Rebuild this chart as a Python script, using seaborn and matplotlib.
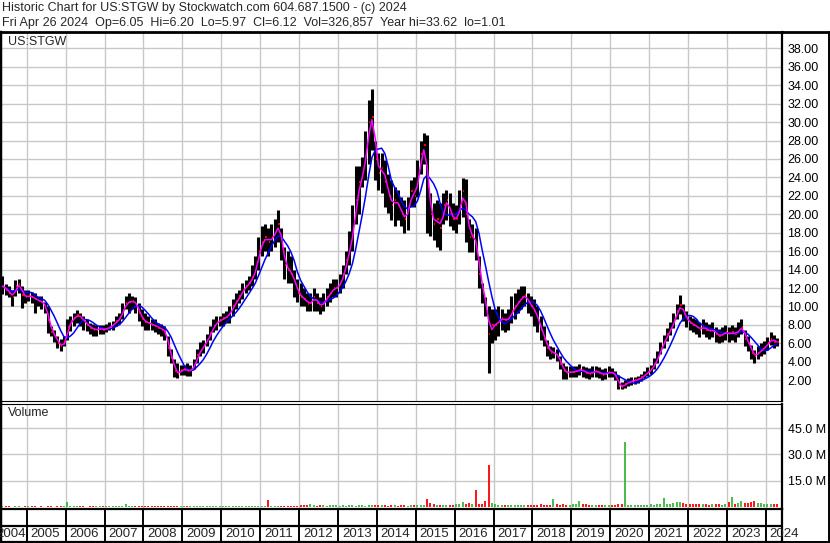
import numpy as np
import pandas as pd
import matplotlib
matplotlib.use("Agg")
import matplotlib.pyplot as plt
import seaborn as sns

sns.set_style("white")
plt.rcParams['font.family'] = ['Liberation Sans', 'DejaVu Sans']

# monthly bars, May 2004 .. Apr 2024
close = [
    12.2, 11.8, 11.5, 11.0, 12.2, 12.4, 11.3, 11.0,
    11.2, 11.0, 10.8, 10.6, 10.5, 10.0, 8.5, 7.2, 6.8, 6.0, 5.7, 6.1,
    7.8, 8.4, 8.8, 9.1, 8.8, 8.4, 8.0, 7.7, 7.5, 7.5, 7.6, 7.5,
    7.6, 7.8, 8.0, 8.4, 8.7, 9.6, 10.4, 10.5, 10.6, 10.3, 9.3, 8.6,
    8.3, 8.2, 8.0, 7.9, 7.7, 7.5, 7.3, 5.5, 4.4, 3.0, 2.7, 3.1,
    3.2, 3.0, 3.1, 3.6, 4.7, 5.3, 5.8, 6.4, 7.1, 7.9, 8.3, 8.5,
    8.7, 8.9, 9.3, 10.0, 10.6, 11.1, 11.8, 12.2, 12.6, 13.2, 14.2, 16.0,
    17.0, 17.5, 17.0, 17.5, 18.0, 19.0, 16.5, 14.5, 14.0, 13.5, 12.5, 11.5,
    11.0, 10.8, 10.3, 10.4, 11.0, 10.4, 10.0, 10.5, 11.0, 11.5, 12.0, 12.0,
    12.5, 13.5, 15.0, 16.5, 18.5, 21.5, 23.5, 24.5, 27.0, 30.0, 30.5, 26.0,
    24.5, 25.0, 23.5, 22.0, 21.0, 21.5, 21.0, 20.0, 19.5, 20.5, 22.5, 22.0,
    24.0, 26.5, 27.5, 23.0, 20.0, 19.0, 19.5, 18.5, 21.0, 21.5, 20.0, 19.5,
    19.5, 21.0, 22.5, 20.0, 17.5, 17.8, 16.5, 13.5, 11.5, 10.0, 7.0, 8.0,
    8.0, 8.5, 8.7, 8.5, 8.7, 9.5, 10.0, 10.5, 11.0, 11.2, 10.5, 10.0,
    9.5, 8.5, 7.5, 6.5, 5.5, 5.0, 5.0, 4.7, 3.8, 3.0, 2.8, 2.9,
    2.9, 3.0, 3.2, 3.0, 2.8, 2.7, 2.9, 3.0, 2.8, 2.6, 2.7, 2.9,
    2.8, 2.5, 1.4, 1.3, 1.6, 1.8, 1.9, 2.0, 2.1, 2.3, 2.6, 2.9,
    3.2, 3.8, 4.5, 5.5, 6.2, 7.0, 7.6, 8.5, 9.5, 10.2, 9.2, 8.6,
    8.2, 8.0, 7.8, 7.5, 7.8, 7.5, 7.3, 7.5, 7.0, 6.8, 7.0, 7.2,
    7.0, 7.2, 7.0, 7.5, 7.8, 6.5, 6.0, 5.0, 4.6, 5.0, 5.3, 5.6,
    6.0, 6.5, 6.2, 6.12,
]
high = [
    13.3, 12.4, 12.2, 11.8, 12.9, 13.0, 12.2, 11.8,
    11.8, 11.6, 11.5, 11.1, 11.1, 10.5, 10.0, 7.9, 7.5, 6.8, 6.5, 6.8,
    8.6, 9.0, 9.3, 9.6, 9.3, 9.0, 8.6, 8.2, 8.1, 8.0, 8.0, 8.0,
    8.1, 8.3, 8.4, 9.0, 9.3, 10.4, 11.1, 11.5, 11.1, 11.0, 10.4, 9.7,
    9.3, 9.0, 8.6, 8.6, 8.2, 8.1, 7.9, 6.8, 5.4, 4.3, 3.9, 3.7,
    3.7, 3.9, 3.7, 4.3, 5.4, 6.1, 6.4, 7.0, 7.9, 8.6, 9.0, 9.0,
    9.3, 9.5, 10.0, 10.8, 11.5, 11.8, 12.5, 12.9, 13.3, 14.5, 15.5, 17.5,
    18.7, 19.0, 18.5, 19.0, 19.5, 20.5, 18.5, 16.5, 16.0, 15.5, 14.0, 13.0,
    12.5, 12.0, 11.5, 11.5, 12.0, 11.5, 11.0, 11.5, 12.0, 12.5, 13.0, 13.0,
    13.5, 14.5, 16.0, 18.2, 21.0, 25.2, 25.2, 26.2, 29.0, 32.4, 33.6, 28.0,
    26.6, 26.6, 25.9, 24.4, 23.7, 23.0, 22.6, 21.9, 21.5, 21.9, 23.7, 24.0,
    25.9, 28.0, 28.8, 28.6, 22.3, 21.2, 21.5, 21.2, 22.3, 22.6, 22.3, 21.2,
    21.0, 22.6, 23.9, 23.8, 19.5, 19.0, 18.5, 15.5, 12.5, 11.0, 10.0, 9.7,
    9.7, 10.0, 9.7, 9.3, 9.7, 11.1, 11.5, 11.9, 12.2, 12.2, 11.5, 11.1,
    10.8, 10.0, 9.0, 7.9, 6.4, 5.7, 5.6, 5.4, 4.6, 3.9, 3.5, 3.5,
    3.5, 3.6, 3.8, 3.6, 3.4, 3.3, 3.5, 3.6, 3.4, 3.2, 3.3, 3.5,
    3.3, 3.0, 2.6, 1.8, 2.0, 2.2, 2.3, 2.4, 2.5, 2.7, 3.0, 3.4,
    3.7, 4.4, 5.2, 6.2, 6.9, 7.7, 8.3, 9.3, 10.3, 11.2, 10.3, 9.5,
    9.0, 8.8, 8.6, 8.3, 8.6, 8.3, 8.1, 8.3, 7.8, 7.6, 7.8, 8.0,
    7.8, 8.0, 7.8, 8.3, 8.6, 7.5, 6.8, 5.8, 5.3, 5.7, 6.0, 6.3,
    6.7, 7.2, 6.9, 6.6,
]
low = [
    11.4, 11.2, 11.0, 10.0, 11.1, 11.5, 9.8, 10.4,
    10.6, 10.4, 9.3, 10.0, 9.7, 9.3, 7.1, 6.8, 6.1, 5.5, 5.2, 5.7,
    6.4, 7.3, 7.9, 8.2, 7.9, 7.5, 7.3, 7.0, 6.8, 6.8, 7.0, 7.0,
    7.2, 7.4, 7.5, 7.9, 8.1, 8.6, 9.7, 9.3, 9.7, 9.3, 8.4, 7.9,
    7.4, 7.5, 7.5, 7.2, 7.0, 6.8, 6.4, 4.6, 3.9, 2.3, 2.2, 2.6,
    2.6, 2.5, 2.5, 3.2, 3.9, 4.6, 5.0, 5.7, 6.4, 7.2, 7.5, 7.9,
    7.9, 8.2, 8.2, 9.0, 9.7, 10.4, 10.8, 11.5, 11.8, 12.2, 13.0, 14.0,
    15.5, 16.0, 15.5, 16.0, 16.5, 17.0, 15.0, 13.0, 12.5, 12.5, 11.0, 10.5,
    10.0, 10.0, 9.5, 9.5, 9.5, 9.5, 9.2, 9.5, 10.0, 10.5, 11.0, 11.0,
    11.5, 12.0, 13.5, 14.5, 16.0, 19.0, 20.0, 23.0, 23.7, 25.5, 27.0, 23.7,
    22.6, 22.3, 20.8, 20.1, 19.4, 18.7, 19.4, 18.7, 18.0, 18.3, 20.8, 20.8,
    21.9, 24.4, 25.5, 18.0, 17.6, 17.2, 16.5, 16.1, 19.0, 19.4, 18.7, 18.3,
    18.0, 19.0, 19.7, 17.0, 15.9, 15.9, 15.0, 12.0, 10.4, 9.0, 2.8, 6.0,
    6.4, 6.8, 7.5, 7.2, 7.5, 8.2, 8.6, 9.3, 9.7, 10.0, 9.3, 9.0,
    7.9, 7.2, 6.4, 5.7, 4.6, 4.3, 4.4, 4.1, 3.2, 2.1, 2.1, 2.4,
    2.3, 2.4, 2.6, 2.4, 2.2, 2.1, 2.3, 2.4, 2.2, 2.0, 2.1, 2.3,
    2.3, 2.0, 1.01, 1.0, 1.2, 1.4, 1.5, 1.6, 1.7, 1.9, 2.2, 2.5,
    2.7, 3.2, 3.9, 4.8, 5.5, 6.3, 6.9, 7.7, 8.6, 9.2, 8.4, 7.8,
    7.4, 7.2, 7.0, 6.7, 7.0, 6.7, 6.5, 6.7, 6.2, 6.0, 6.2, 6.4,
    6.2, 6.4, 6.2, 6.7, 7.0, 5.7, 5.2, 4.3, 3.9, 4.3, 4.6, 4.9,
    5.3, 5.8, 5.5, 5.7,
]
# largest daily volume seen in each month, millions
volume = [
    0.4, 0.5, 0.4, 0.3, 0.5, 0.4, 0.3, 0.4,
    0.4, 0.5, 0.4, 0.3, 0.4, 0.3, 0.5, 0.6, 0.3, 0.4, 0.5, 0.4,
    2.8, 0.6, 0.5, 0.4, 0.5, 0.4, 0.3, 0.4, 0.5, 0.4, 0.4, 0.5,
    0.5, 0.4, 0.5, 0.4, 0.6, 0.5, 1.6, 0.6, 0.5, 0.4, 0.5, 0.4,
    0.5, 0.4, 0.5, 0.4, 0.5, 0.4, 0.6, 0.5, 0.7, 0.6, 0.5, 0.4,
    0.4, 0.5, 0.6, 0.5, 0.6, 0.5, 0.4, 0.5, 0.6, 0.4, 0.5, 0.4,
    0.5, 0.4, 0.5, 0.6, 0.5, 0.4, 0.5, 0.6, 0.5, 0.4, 0.5, 0.6,
    0.7, 0.6, 3.8, 0.7, 0.6, 0.5, 0.7, 0.8, 0.6, 0.5, 0.6, 0.5,
    1.2, 1.4, 0.9, 1.5, 1.0, 0.8, 0.9, 1.0, 0.8, 0.9, 1.0, 0.9,
    0.8, 0.9, 0.8, 1.0, 0.9, 0.8, 0.9, 1.0, 0.8, 1.1, 1.0, 0.9,
    0.9, 1.0, 0.9, 0.8, 0.9, 1.0, 0.8, 0.9, 1.0, 0.8, 0.9, 1.0,
    1.0, 1.2, 1.1, 4.5, 2.5, 1.8, 1.2, 1.0, 1.1, 1.0, 1.2, 1.1,
    1.5, 2.0, 3.0, 1.8, 2.5, 1.5, 9.5, 2.0, 1.5, 3.5, 24.0, 2.5,
    1.5, 1.2, 1.0, 1.1, 0.9, 1.0, 1.2, 0.9, 1.0, 1.1, 0.9, 1.0,
    1.0, 1.2, 1.5, 1.3, 1.2, 1.4, 4.5, 1.5, 1.3, 1.6, 1.4, 1.2,
    1.5, 2.0, 3.5, 1.8, 1.5, 1.2, 1.3, 1.4, 1.2, 1.1, 1.3, 1.2,
    1.2, 1.3, 1.8, 1.5, 37.0, 1.4, 1.3, 1.2, 1.1, 1.0, 1.2, 1.3,
    1.5, 1.4, 1.6, 1.8, 5.0, 1.8, 2.0, 2.5, 2.8, 3.0, 2.2, 2.0,
    1.8, 1.6, 1.5, 1.8, 1.6, 1.5, 1.4, 1.6, 1.8, 1.5, 1.4, 1.6,
    3.0, 5.5, 2.0, 2.5, 3.5, 2.2, 2.5, 3.0, 3.2, 2.5, 2.2, 2.0,
    1.8, 1.5, 2.0, 1.5,
]
years = list(range(2004, 2025))
price_ticks = list(range(2, 40, 2))
volume_ticks = [15, 30, 45]

W, H = 830, 543
months = pd.period_range('2004-05', periods=len(close), freq='M')
df = pd.DataFrame({
    't': months.year + (months.month - 0.5) / 12,
    'close': close, 'high': high, 'low': low, 'volume': volume,
})
df['ma_fast'] = df['close'].rolling(2, min_periods=1).mean()
df['ma_slow'] = df['close'].rolling(6, min_periods=1).mean()
df['up'] = df['close'].diff().fillna(0) >= 0

px_per_year = 38.9
x0 = 2005 - 26.7 / px_per_year
x1 = 2005 + (782 - 26.7) / px_per_year


def fx(px):
    return px / W


def fy(py):
    return 1 - py / H


fig = plt.figure(figsize=(W / 100, H / 100), dpi=100)
fig.patch.set_facecolor('white')

ax = fig.add_axes([0, fy(401), fx(782), fy(32) - fy(401)])
axv = fig.add_axes([0, fy(509), fx(782), fy(403.5) - fy(509)])
axy = fig.add_axes([0, fy(542), fx(782), fy(509) - fy(542)])

grid_c = '#c8c8c8'
for a in (ax, axv):
    a.set_xlim(x0, x1)
    for yr in years:
        a.axvline(yr, color=grid_c, lw=1, zorder=0)
    a.set_xticks([])
    a.yaxis.tick_right()
    a.tick_params(axis='y', length=0, pad=4, labelsize=9, colors='black')
    for s in a.spines.values():
        s.set_color('black')
        s.set_linewidth(0.8)
    a.spines['left'].set_linewidth(2.5)
    a.spines['right'].set_linewidth(1.6)

# price panel
ax.set_ylim(-0.25, 39.77)
for p in price_ticks:
    ax.axhline(p, color=grid_c, lw=1, zorder=0)
ax.set_yticks(price_ticks)
ax.set_yticklabels([f'{p:.2f}' for p in price_ticks])
ax.spines['top'].set_linewidth(2)
ax.vlines(df['t'], df['low'], df['high'], color='black', lw=2.2, zorder=2)
ax.hlines(df['close'], df['t'] + 0.012, df['t'] + 0.045, color='red', lw=1.4, zorder=3)
sns.lineplot(data=df, x='t', y='ma_slow', ax=ax, color='#0000ff', lw=1.1, zorder=4)
sns.lineplot(data=df, x='t', y='ma_fast', ax=ax, color='#ff00ff', lw=1.1, zorder=5)
ax.set_xlabel('')
ax.set_ylabel('')
ax.text(8 / 782, 1 - 10 / 369, 'US:STGW', transform=ax.transAxes, fontsize=9,
        va='center', ha='left')

# volume panel
axv.set_ylim(-1.1, 59)
for v in volume_ticks:
    axv.axhline(v, color=grid_c, lw=1, zorder=0)
axv.set_yticks(volume_ticks)
axv.set_yticklabels([f'{v:.1f} M' for v in volume_ticks])
vcol = np.where(df['up'], '#3cb43c', '#ff0000')
axv.vlines(df['t'], 0, df['volume'], colors=vcol, lw=1.3, zorder=2)
axv.text(8 / 782, 1 - 10 / 105.5, 'Volume', transform=axv.transAxes, fontsize=9,
         va='center', ha='left')

# year strip
axy.set_xlim(x0, x1)
axy.set_ylim(0, 1)
axy.set_xticks([])
axy.set_yticks([])
for s in axy.spines.values():
    s.set_color('black')
    s.set_linewidth(1.6)
axy.spines['left'].set_linewidth(2.5)
axy.axhline(0.5, color='black', lw=1.6)
for yr in years:
    axy.axvline(yr, color='black', lw=1.4)
    lx = yr + 4 / px_per_year if yr > 2004 else x0 - 4 / px_per_year
    axy.text(lx, 0.24, str(yr), fontsize=9.5, va='center', ha='left', clip_on=False)

# outer frame of the label column
fig.add_artist(plt.Line2D([fx(782), fx(829)], [fy(32), fy(32)], color='black', lw=2))
fig.add_artist(plt.Line2D([fx(829), fx(829)], [fy(32), fy(542)], color='black', lw=1.4))
fig.add_artist(plt.Line2D([fx(782), fx(829)], [fy(542), fy(542)], color='black', lw=1.4))

fig.text(fx(2), fy(8), 'Historic Chart for US:STGW by Stockwatch.com 604.687.1500 - (c) 2024',
         fontsize=9, va='center', ha='left')
fig.text(fx(2), fy(23), 'Fri Apr 26 2024  Op=6.05  Hi=6.20  Lo=5.97  Cl=6.12  '
         'Vol=326,857  Year hi=33.62  lo=1.01', fontsize=9, va='center', ha='left')

fig.savefig('out.png', dpi=100, facecolor='white')
